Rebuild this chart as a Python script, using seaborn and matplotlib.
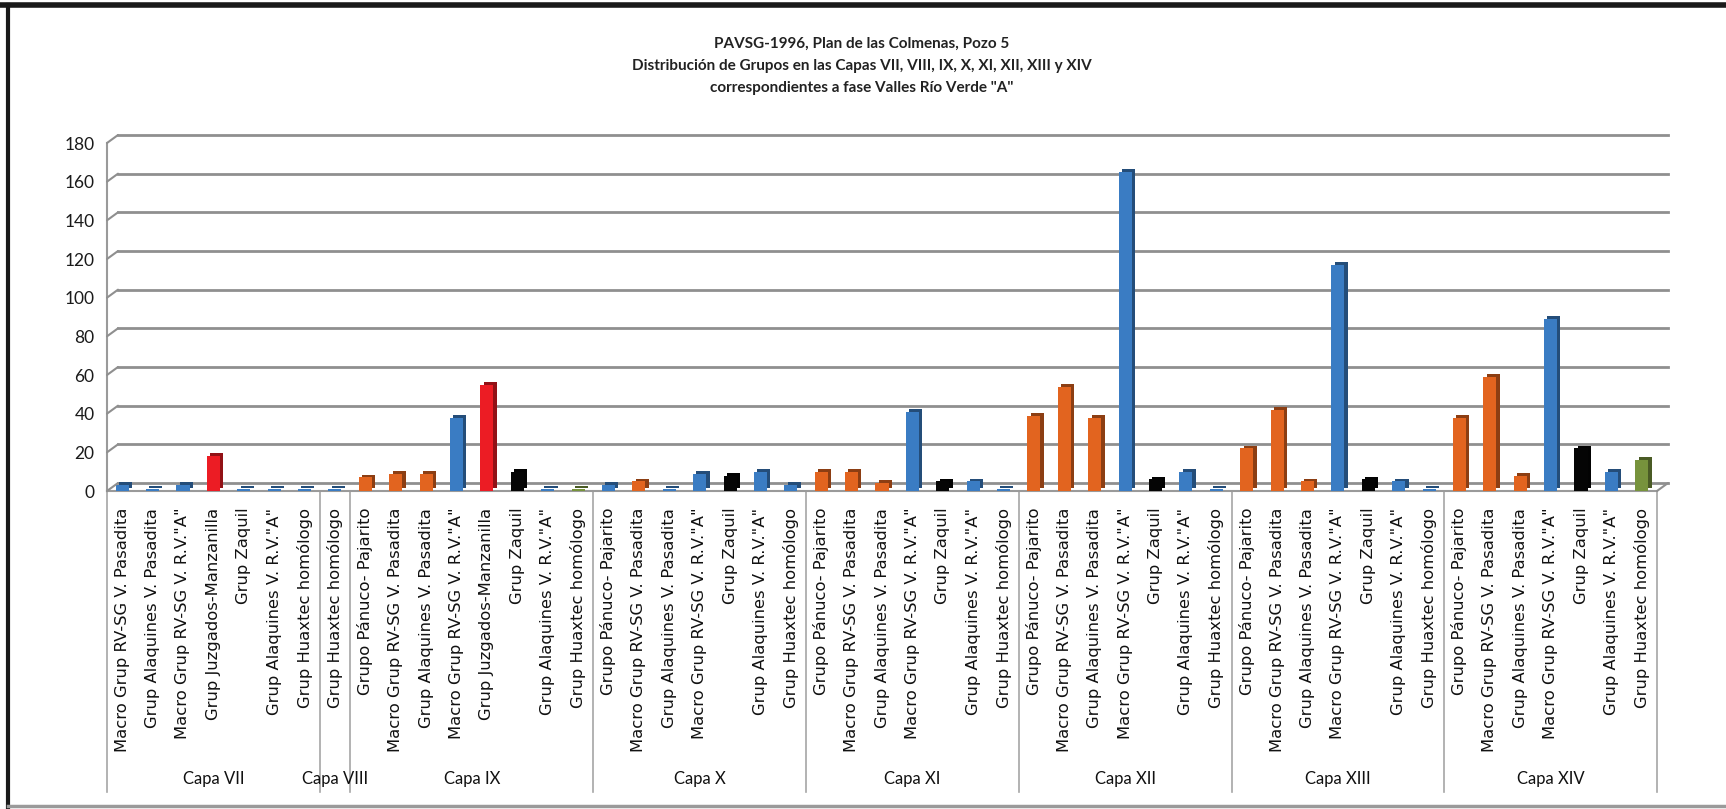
"""PAVSG-1996, Plan de las Colmenas, Pozo 5: grupos por capa."""

import matplotlib

matplotlib.use("Agg")
import matplotlib.pyplot as plt
import matplotlib.patheffects as pe
import matplotlib.transforms as mtransforms
from matplotlib.colors import to_rgb
from matplotlib.lines import Line2D
import pandas as pd
import seaborn as sns

# --- data -----------------------------------------------------------------
capas = ["Capa VII", "Capa VIII", "Capa IX", "Capa X", "Capa XI",
         "Capa XII", "Capa XIII", "Capa XIV"]

grupos_vii = ["Macro Grup RV-SG V. Pasadita", "Grup Alaquines V. Pasadita",
              'Macro Grup RV-SG V. R.V."A"', "Grup Juzgados-Manzanilla",
              "Grup Zaquil", 'Grup Alaquines V. R.V."A"', "Grup Huaxtec homólogo"]
grupos_viii = ["Grup Huaxtec homólogo"]
grupos_ix = ["Grupo Pánuco- Pajarito", "Macro Grup RV-SG V. Pasadita",
             "Grup Alaquines V. Pasadita", 'Macro Grup RV-SG V. R.V."A"',
             "Grup Juzgados-Manzanilla", "Grup Zaquil",
             'Grup Alaquines V. R.V."A"', "Grup Huaxtec homólogo"]
grupos_std = ["Grupo Pánuco- Pajarito", "Macro Grup RV-SG V. Pasadita",
              "Grup Alaquines V. Pasadita", 'Macro Grup RV-SG V. R.V."A"',
              "Grup Zaquil", 'Grup Alaquines V. R.V."A"', "Grup Huaxtec homólogo"]

valores_vii = [3, 1, 3, 18, 1, 1, 1]
valores_viii = [1]
valores_ix = [7, 9, 9, 38, 55, 10, 1, 1]
valores_x = [3, 5, 1, 9, 8, 10, 3]
valores_xi = [10, 10, 4, 41, 5, 5, 1]
valores_xii = [39, 54, 38, 165, 6, 10, 1]
valores_xiii = [22, 42, 5, 117, 6, 5, 1]
valores_xiv = [38, 59, 8, 89, 22, 10, 16]

# colour key per bar: b=blue, o=orange, r=red, k=black, g=green
tonos_vii = ["b", "b", "b", "r", "b", "b", "b"]
tonos_viii = ["b"]
tonos_ix = ["o", "o", "o", "b", "r", "k", "b", "g"]
tonos_x = ["b", "o", "b", "b", "k", "b", "b"]
tonos_xi = ["o", "o", "o", "b", "k", "b", "b"]
tonos_xii = ["o", "o", "o", "b", "k", "b", "b"]
tonos_xiii = ["o", "o", "o", "b", "k", "b", "b"]
tonos_xiv = ["o", "o", "o", "b", "k", "b", "g"]

paleta = {"b": "#3a7cc3", "o": "#e2641f", "r": "#ec1c24", "k": "#050505", "g": "#77933c"}

grupos = [grupos_vii, grupos_viii, grupos_ix, grupos_std, grupos_std,
          grupos_std, grupos_std, grupos_std]
valores = [valores_vii, valores_viii, valores_ix, valores_x, valores_xi,
           valores_xii, valores_xiii, valores_xiv]
tonos = [tonos_vii, tonos_viii, tonos_ix, tonos_x, tonos_xi,
         tonos_xii, tonos_xiii, tonos_xiv]

rows = []
for capa, gs, vs, ts in zip(capas, grupos, valores, tonos):
    for g, v, t in zip(gs, vs, ts):
        rows.append({"capa": capa, "grupo": g, "valor": v, "tono": t})
df = pd.DataFrame(rows)
df["key"] = [f"{i:02d}" for i in range(len(df))]

# --- figure -----------------------------------------------------------------
W, H = 1726, 809
fig = plt.figure(figsize=(W / 100, H / 100), dpi=100)
ax_h = 491 - 143
ax = fig.add_axes([107 / W, 1 - 491 / H, 1550 / W, ax_h / H])

sns.barplot(
    data=df, x="key", y="valor", hue="key",
    palette={k: paleta[t] for k, t in zip(df["key"], df["tono"])},
    legend=False, width=0.43, saturation=1, ax=ax, zorder=3,
)

# fake the Excel 3-D extrusion with a darker offset copy of each bar
for patch, t in zip(ax.patches, df["tono"]):
    r, g, b = to_rgb(paleta[t])
    dark = (r * 0.62, g * 0.62, b * 0.62)
    patch.set_path_effects([
        pe.SimplePatchShadow(offset=(2.4, 2.0), shadow_rgbFace=dark, alpha=1),
        pe.Normal(),
    ])
    patch.set_linewidth(0)

narrow = ["Liberation Sans Narrow", "Lato", "DejaVu Sans"]
grid_color = "#8f8f8f"
yticks = list(range(0, 181, 20))

ax.set_xlabel("")
ax.set_ylabel("")
for side in ["top", "right"]:
    ax.spines[side].set_visible(False)
for side in ["left", "bottom"]:
    ax.spines[side].set_color("#9a9a9a")
    ax.spines[side].set_linewidth(1.5)
ax.tick_params(axis="both", length=0)

# back-wall gridlines, pushed back in depth like the Excel 3-D wall
depth = mtransforms.ScaledTranslation(11 / 100, 8 / 100, fig.dpi_scale_trans)
wall = ax.get_yaxis_transform() + depth
for v in yticks:
    ax.add_artist(Line2D([0, 1], [v, v], color=grid_color, linewidth=2.0,
                         zorder=0, transform=wall, clip_on=False))
    ax.annotate("", xy=(0, v), xycoords=("axes fraction", "data"),
                xytext=(11 * 0.72, 8 * 0.72), textcoords="offset points",
                arrowprops=dict(arrowstyle="-", color=grid_color, lw=1.5,
                                shrinkA=0, shrinkB=0))
ax.annotate("", xy=(1, 0), xycoords="axes fraction",
            xytext=(11 * 0.72, 8 * 0.72), textcoords="offset points",
            arrowprops=dict(arrowstyle="-", color=grid_color, lw=1.5,
                            shrinkA=0, shrinkB=0))

ax.set_xlim(-0.5, len(df) - 0.5)
ax.set_ylim(0, 180)
ax.set_yticks(yticks)
ax.tick_params(axis="y", pad=9, labelsize=12.5, labelcolor="#1a1a1a")
for lab in ax.get_yticklabels():
    lab.set_family(narrow)

ax.set_xticks(range(len(df)))
ax.set_xticklabels(df["grupo"], rotation=90, fontsize=11.8, color="#111111",
                   family="DejaVu Sans")
ax.tick_params(axis="x", pad=12)

# group (capa) level of the category axis
start = 0
bounds = [0]
for capa, gs in zip(capas, grupos):
    end = start + len(gs)
    ax.text((start + end - 1) / 2, -288 / ax_h * 180, capa,
            ha="center", va="center", fontsize=12, family=narrow,
            color="#111111", clip_on=False)
    bounds.append(end)
    start = end
for b in bounds:
    ax.axvline(b - 0.5, ymin=-301 / ax_h, ymax=0, color="#a6a6a6",
               linewidth=1.2, clip_on=False)

ax.set_xlim(-0.5, len(df) - 0.5)
ax.set_ylim(0, 180)

# title
title = ("PAVSG-1996, Plan de las Colmenas, Pozo 5\n"
         "Distribución de Grupos en las Capas VII, VIII, IX, X, XI, XII, XIII y XIV\n"
         "correspondientes a fase Valles Río Verde \"A\"")
fig.text(862 / W, 1 - 66 / H, title, ha="center", va="center", fontsize=11,
         fontweight="bold", family=narrow, color="#222222", linespacing=1.75)

# outer frame of the chart object
fig.add_artist(Line2D([0, 1], [1 - 5 / H, 1 - 5 / H], color="#1a1a1a", linewidth=4))
fig.add_artist(Line2D([8 / W, 8 / W], [1 - 807 / H, 1 - 5 / H], color="#1a1a1a", linewidth=3))
fig.add_artist(Line2D([8 / W, 1], [1 - 806 / H, 1 - 806 / H], color="#9a9a9a", linewidth=2.5))

fig.savefig("out.png", dpi=100)
plt.close(fig)
